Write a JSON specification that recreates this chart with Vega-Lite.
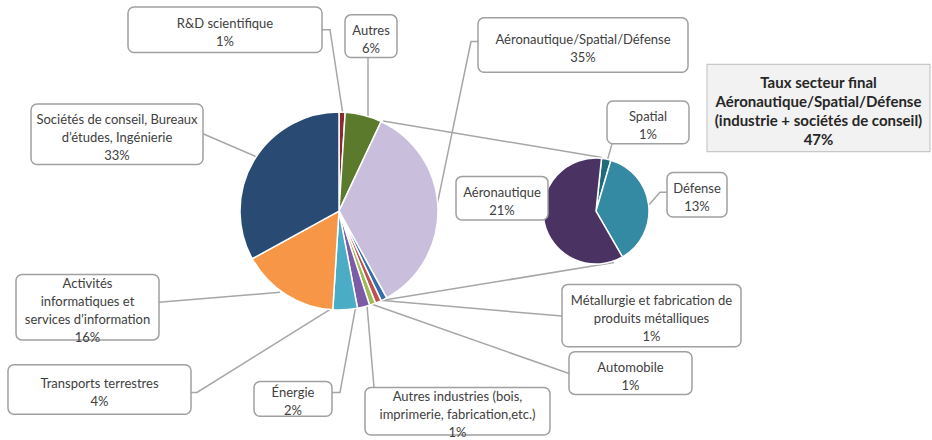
{
  "$schema": "https://vega.github.io/schema/vega-lite/v6.json",
  "width": 932,
  "height": 440,
  "padding": 0,
  "autosize": {"type": "fit", "contains": "padding"},
  "background": "white",
  "config": {"view": {"stroke": null}, "text": {"font": "Lato"}},
  "datasets": {
    "main": [
      {"name": "R&D scientifique", "value": 1, "k": 1},
      {"name": "Autres", "value": 6, "k": 2},
      {"name": "Aéronautique/Spatial/Défense", "value": 35, "k": 3},
      {"name": "Métallurgie et fabrication de produits métalliques", "value": 1, "k": 4},
      {"name": "Automobile", "value": 1, "k": 5},
      {"name": "Autres industries", "value": 1, "k": 6},
      {"name": "Énergie", "value": 2, "k": 7},
      {"name": "Transports terrestres", "value": 4, "k": 8},
      {"name": "Activités informatiques et services d'information", "value": 16, "k": 9},
      {"name": "Sociétés de conseil, Bureaux d'études, Ingénierie", "value": 33, "k": 10}
    ],
    "sub": [
      {"name": "Spatial", "value": 1, "k": 1},
      {"name": "Défense", "value": 13, "k": 2},
      {"name": "Aéronautique", "value": 21, "k": 3}
    ],
    "leaders": [
      {"id": "rd", "k": 1, "x": 322, "y": 30}, {"id": "rd", "k": 2, "x": 330, "y": 30}, {"id": "rd", "k": 3, "x": 343, "y": 116},
      {"id": "autres", "k": 1, "x": 368, "y": 58}, {"id": "autres", "k": 2, "x": 368, "y": 118},
      {"id": "soc", "k": 1, "x": 203, "y": 135}, {"id": "soc", "k": 2, "x": 256, "y": 158},
      {"id": "asd", "k": 1, "x": 478, "y": 42}, {"id": "asd", "k": 2, "x": 471, "y": 42}, {"id": "asd", "k": 3, "x": 436, "y": 212},
      {"id": "top", "k": 1, "x": 383, "y": 122}, {"id": "top", "k": 2, "x": 602, "y": 159},
      {"id": "bot", "k": 1, "x": 383, "y": 303}, {"id": "bot", "k": 2, "x": 614, "y": 265},
      {"id": "spatial", "k": 1, "x": 612, "y": 145}, {"id": "spatial", "k": 2, "x": 607, "y": 163},
      {"id": "def", "k": 1, "x": 667, "y": 194}, {"id": "def", "k": 2, "x": 660, "y": 194}, {"id": "def", "k": 3, "x": 647, "y": 209},
      {"id": "met", "k": 1, "x": 380, "y": 303}, {"id": "met", "k": 2, "x": 562, "y": 319},
      {"id": "auto", "k": 1, "x": 372, "y": 307}, {"id": "auto", "k": 2, "x": 569, "y": 377},
      {"id": "ind", "k": 1, "x": 374, "y": 391}, {"id": "ind", "k": 2, "x": 367, "y": 308},
      {"id": "ene", "k": 1, "x": 332, "y": 396}, {"id": "ene", "k": 2, "x": 340, "y": 396}, {"id": "ene", "k": 3, "x": 356, "y": 308},
      {"id": "tra", "k": 1, "x": 191, "y": 396}, {"id": "tra", "k": 2, "x": 197, "y": 396}, {"id": "tra", "k": 3, "x": 337, "y": 308},
      {"id": "act", "k": 1, "x": 159, "y": 305}, {"id": "act", "k": 2, "x": 280, "y": 295}
    ],
    "boxes": [
      {"kind": "callout", "x1": 128, "y1": 7, "x2": 322, "y2": 53, "text": "R&D scientifique\n1%"},
      {"kind": "callout", "x1": 345, "y1": 15, "x2": 397, "y2": 58, "text": "Autres\n6%"},
      {"kind": "callout", "x1": 478, "y1": 18, "x2": 688, "y2": 73, "text": "Aéronautique/Spatial/Défense\n35%"},
      {"kind": "callout", "x1": 31, "y1": 105, "x2": 203, "y2": 166, "text": "Sociétés de conseil, Bureaux\nd’études, Ingénierie\n33%"},
      {"kind": "callout", "x1": 607, "y1": 102, "x2": 689, "y2": 145, "text": "Spatial\n1%"},
      {"kind": "callout", "x1": 456, "y1": 178, "x2": 548, "y2": 222, "text": "Aéronautique\n21%"},
      {"kind": "callout", "x1": 667, "y1": 174, "x2": 727, "y2": 219, "text": "Défense\n13%"},
      {"kind": "callout", "x1": 16, "y1": 277, "x2": 159, "y2": 343, "text": "Activités\ninformatiques et\nservices d’information\n16%"},
      {"kind": "callout", "x1": 562, "y1": 287, "x2": 741, "y2": 350, "text": "Métallurgie et fabrication de\nproduits métalliques\n1%"},
      {"kind": "callout", "x1": 569, "y1": 355, "x2": 692, "y2": 398, "text": "Automobile\n1%"},
      {"kind": "callout", "x1": 8, "y1": 368, "x2": 191, "y2": 418, "text": "Transports terrestres\n4%"},
      {"kind": "callout", "x1": 254, "y1": 385, "x2": 332, "y2": 420, "text": "Énergie\n2%"},
      {"kind": "callout", "x1": 365, "y1": 391, "x2": 550, "y2": 439, "text": "Autres industries (bois,\nimprimerie, fabrication,etc.)\n1%"},
      {"kind": "note", "x1": 707, "y1": 65, "x2": 930, "y2": 153, "text": "Taux secteur final\nAéronautique/Spatial/Défense\n(industrie + sociétés de conseil)\n47%"}
    ]
  },
  "encoding": {
    "x": {"type": "quantitative", "scale": {"domain": [0, 932], "nice": false, "zero": false}, "axis": null},
    "y": {"type": "quantitative", "scale": {"domain": [0, 440], "nice": false, "zero": false, "reverse": true}, "axis": null}
  },
  "layer": [
    {
      "data": {"name": "leaders"},
      "mark": {"type": "line", "color": "#a6a6a6", "strokeWidth": 1.5},
      "encoding": {
        "x": {"field": "x", "type": "quantitative"},
        "y": {"field": "y", "type": "quantitative"},
        "detail": {"field": "id"},
        "order": {"field": "k"}
      }
    },
    {
      "data": {"name": "main"},
      "mark": {"type": "arc", "outerRadius": 99, "stroke": "white", "strokeWidth": 1.5},
      "encoding": {
        "x": {"datum": 339, "type": "quantitative"},
        "y": {"datum": 213, "type": "quantitative"},
        "theta": {"field": "value", "type": "quantitative", "stack": true},
        "order": {"field": "k"},
        "color": {
          "field": "name", "type": "nominal", "legend": null,
          "scale": {
            "domain": ["R&D scientifique", "Autres", "Aéronautique/Spatial/Défense", "Métallurgie et fabrication de produits métalliques", "Automobile", "Autres industries", "Énergie", "Transports terrestres", "Activités informatiques et services d'information", "Sociétés de conseil, Bureaux d'études, Ingénierie", "Spatial", "Défense", "Aéronautique"],
            "range": ["#8b2a2e", "#5b7a2c", "#c9bedb", "#336fa8", "#c0504d", "#9bbb59", "#7d5ba6", "#4bacc6", "#f79646", "#284a73", "#1f6b7a", "#348aa2", "#4a3263"]
          }
        }
      }
    },
    {
      "data": {"name": "sub"},
      "mark": {"type": "arc", "outerRadius": 53, "stroke": "white", "strokeWidth": 1.5},
      "encoding": {
        "x": {"datum": 596, "type": "quantitative"},
        "y": {"datum": 213, "type": "quantitative"},
        "theta": {"field": "value", "type": "quantitative", "stack": true, "scale": {"range": [0.105, 6.388]}},
        "order": {"field": "k"},
        "color": {
          "field": "name", "type": "nominal", "legend": null,
          "scale": {
            "domain": ["R&D scientifique", "Autres", "Aéronautique/Spatial/Défense", "Métallurgie et fabrication de produits métalliques", "Automobile", "Autres industries", "Énergie", "Transports terrestres", "Activités informatiques et services d'information", "Sociétés de conseil, Bureaux d'études, Ingénierie", "Spatial", "Défense", "Aéronautique"],
            "range": ["#8b2a2e", "#5b7a2c", "#c9bedb", "#336fa8", "#c0504d", "#9bbb59", "#7d5ba6", "#4bacc6", "#f79646", "#284a73", "#1f6b7a", "#348aa2", "#4a3263"]
          }
        }
      }
    },
    {
      "data": {"name": "boxes"},
      "transform": [{"filter": "datum.kind === 'callout'"}],
      "mark": {"type": "rect", "fill": "white", "stroke": "#a0a0a0", "strokeWidth": 1.5, "cornerRadius": 6},
      "encoding": {
        "x": {"field": "x1", "type": "quantitative"},
        "x2": {"field": "x2"},
        "y": {"field": "y1", "type": "quantitative"},
        "y2": {"field": "y2"}
      }
    },
    {
      "data": {"name": "boxes"},
      "transform": [{"filter": "datum.kind === 'note'"}],
      "mark": {"type": "rect", "fill": "#f2f2f2", "stroke": "#c8c8c8", "strokeWidth": 1.2},
      "encoding": {
        "x": {"field": "x1", "type": "quantitative"},
        "x2": {"field": "x2"},
        "y": {"field": "y1", "type": "quantitative"},
        "y2": {"field": "y2"}
      }
    },
    {
      "data": {"name": "boxes"},
      "transform": [
        {"filter": "datum.kind === 'callout'"},
        {"calculate": "(datum.x1 + datum.x2) / 2", "as": "xc"},
        {"calculate": "(datum.y2 + datum.y1) / 2 - (split(datum.text, '\\n').length - 1) * 18 / 2", "as": "yc"}
      ],
      "mark": {"type": "text", "lineBreak": "\n", "fontSize": 13, "lineHeight": 18, "dy": 3.5, "color": "#404040", "align": "center", "baseline": "middle"},
      "encoding": {
        "x": {"field": "xc", "type": "quantitative"},
        "y": {"field": "yc", "type": "quantitative"},
        "text": {"field": "text"}
      }
    },
    {
      "data": {"name": "boxes"},
      "transform": [
        {"filter": "datum.kind === 'note'"},
        {"calculate": "(datum.x1 + datum.x2) / 2", "as": "xc"},
        {"calculate": "(datum.y1 + datum.y2) / 2 - 3 * 19 / 2", "as": "yc"}
      ],
      "mark": {"type": "text", "lineBreak": "\n", "fontSize": 15, "lineHeight": 19, "dy": 3.5, "fontWeight": "bold", "color": "#262626", "align": "center", "baseline": "middle"},
      "encoding": {
        "x": {"field": "xc", "type": "quantitative"},
        "y": {"field": "yc", "type": "quantitative"},
        "text": {"field": "text"}
      }
    }
  ],
  "resolve": {"scale": {"theta": "independent"}}
}
